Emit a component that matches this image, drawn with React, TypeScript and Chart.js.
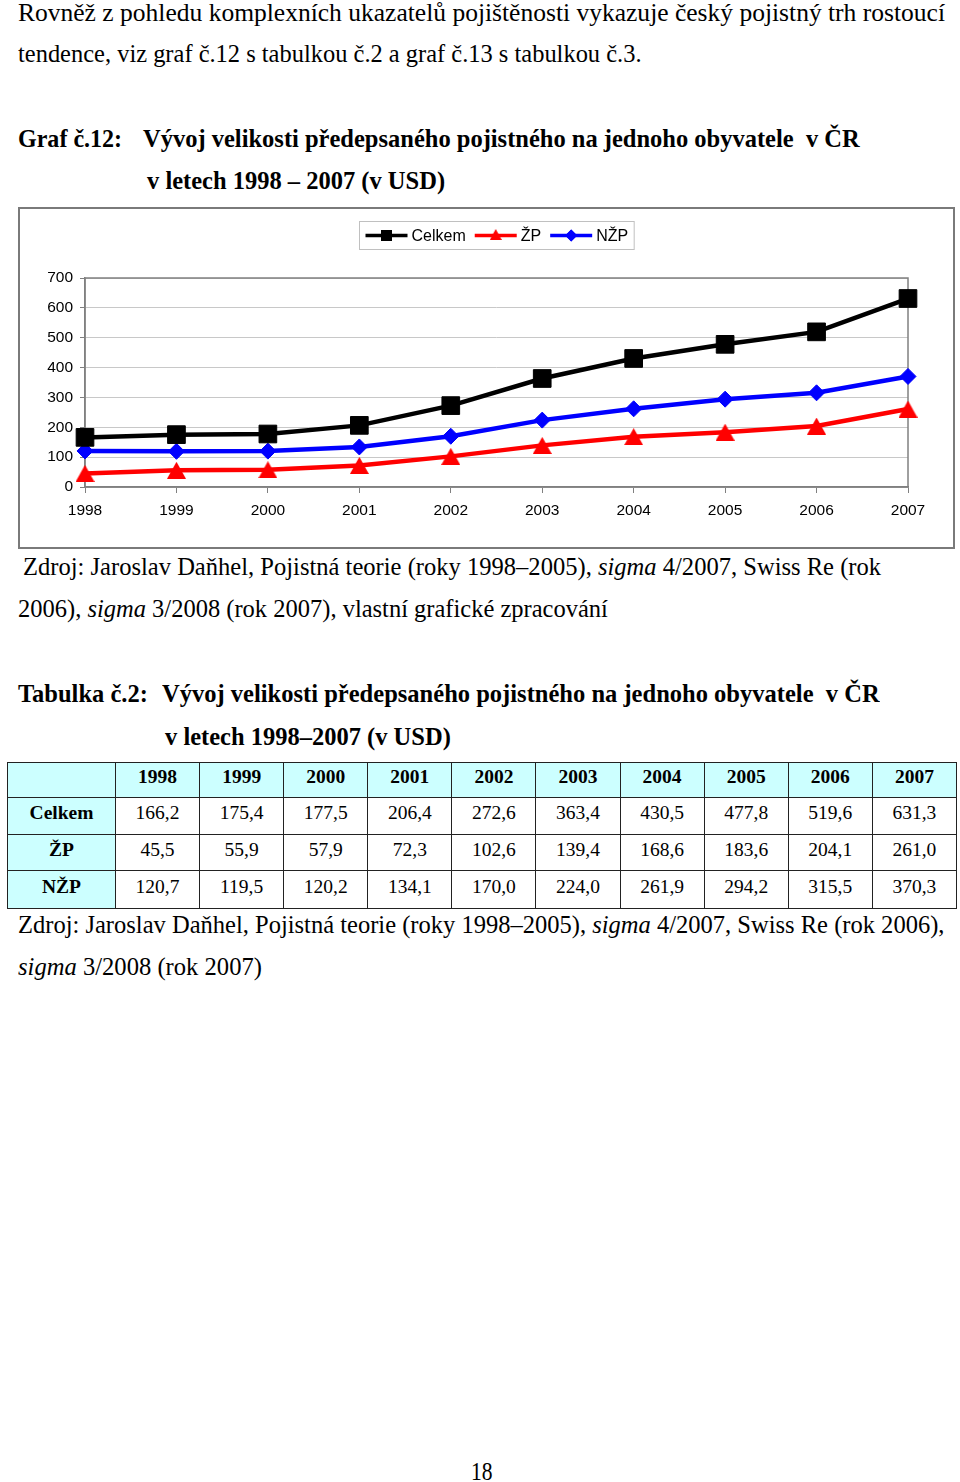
import React, { useEffect, useLayoutEffect, useRef, useState } from 'react';
import { Chart, registerables } from 'chart.js';
import { drawPoint } from 'chart.js/helpers';

Chart.register(...registerables);

// ---------- data ----------
const years = ['1998', '1999', '2000', '2001', '2002', '2003', '2004', '2005', '2006', '2007'];
const celkem = [166.2, 175.4, 177.5, 206.4, 272.6, 363.4, 430.5, 477.8, 519.6, 631.3];
const zp = [45.5, 55.9, 57.9, 72.3, 102.6, 139.4, 168.6, 183.6, 204.1, 261.0];
const nzp = [120.7, 119.5, 120.2, 134.1, 170.0, 224.0, 261.9, 294.2, 315.5, 370.3];
const seriesNames = ['Celkem', 'ŽP', 'NŽP'];
const seriesColors = ['#000000', '#ff0000', '#0000ff'];
const yMin = 0;
const yMax = 700;
const yStep = 100;

const tableRows = [
  { name: 'Celkem', values: celkem },
  { name: 'ŽP', values: zp },
  { name: 'NŽP', values: nzp },
];

const fmt = (v: number) => v.toFixed(1).replace('.', ',');

const SERIF = '"Liberation Serif", "Times New Roman", serif';
const SANS = '"Liberation Sans", Arial, sans-serif';

// ---------- text line fitted to a width ----------
function Line(props: {
  x: number;
  baseline: number;
  width?: number;
  size?: number;
  bold?: boolean;
  children: React.ReactNode;
}) {
  const { x, baseline, width, size = 24.5, bold, children } = props;
  const ref = useRef<HTMLSpanElement>(null);
  const [scale, setScale] = useState(1);
  useLayoutEffect(() => {
    const measure = () => {
      if (!ref.current || !width) return;
      const w = ref.current.offsetWidth;
      if (w > 0) setScale(width / w);
    };
    measure();
    if ((document as any).fonts && (document as any).fonts.ready) {
      (document as any).fonts.ready.then(measure);
    }
  }, [width]);
  return (
    <span
      ref={ref}
      style={{
        position: 'absolute',
        left: x,
        top: baseline - 0.8375 * size,
        display: 'inline-block',
        whiteSpace: 'pre',
        fontFamily: SERIF,
        fontSize: size,
        lineHeight: `${size}px`,
        fontWeight: bold ? 'bold' : 'normal',
        transformOrigin: '0 0',
        transform: `scaleX(${scale})`,
        color: '#000',
      }}
    >
      {children}
    </span>
  );
}

// ---------- chart ----------
function makeTriangle(color: string, w: number, h: number) {
  const c = document.createElement('canvas');
  c.width = w;
  c.height = h;
  const ctx = c.getContext('2d')!;
  ctx.fillStyle = color;
  ctx.beginPath();
  ctx.moveTo(w / 2, 0);
  ctx.lineTo(w, h);
  ctx.lineTo(0, h);
  ctx.closePath();
  ctx.fill();
  return c;
}

function LineChart() {
  const canvasRef = useRef<HTMLCanvasElement>(null);
  useEffect(() => {
    if (!canvasRef.current) return;
    const tri = makeTriangle(seriesColors[1], 19, 17);
    const triSmall = makeTriangle(seriesColors[1], 12, 11);

    const plotFrame = {
      id: 'plotFrame',
      beforeDatasetsDraw(chart: any) {
        const { ctx, chartArea } = chart;
        ctx.save();
        ctx.strokeStyle = '#808080';
        ctx.lineWidth = 1.5;
        ctx.strokeRect(chartArea.left, chartArea.top, chartArea.right - chartArea.left, chartArea.bottom - chartArea.top);
        ctx.restore();
      },
    };

    const customLegend = {
      id: 'customLegend',
      afterDraw(chart: any) {
        const { ctx, chartArea } = chart;
        ctx.save();
        ctx.font = `16px ${SANS}`;
        const lineW = 42;
        const gapText = 4;
        const gapItem = 9;
        const widths = seriesNames.map((n) => ctx.measureText(n).width);
        let total = 0;
        widths.forEach((w, i) => {
          total += lineW + gapText + w + (i < widths.length - 1 ? gapItem : 0);
        });
        const pad = 6;
        const cx = (chartArea.left + chartArea.right) / 2;
        const boxL = Math.round(cx - total / 2 - pad) + 0.5;
        const boxT = 12.5;
        const boxH = 28;
        ctx.strokeStyle = '#c0c0c0';
        ctx.lineWidth = 1;
        ctx.strokeRect(boxL, boxT, total + 2 * pad, boxH);
        const cy = boxT + boxH / 2;
        let x = boxL + pad;
        seriesNames.forEach((n, i) => {
          const col = seriesColors[i];
          ctx.strokeStyle = col;
          ctx.lineWidth = 3.5;
          ctx.beginPath();
          ctx.moveTo(x, cy);
          ctx.lineTo(x + lineW, cy);
          ctx.stroke();
          const mx = x + lineW / 2;
          ctx.fillStyle = col;
          if (i === 0) {
            ctx.fillRect(mx - 5.5, cy - 5.5, 11, 11);
          } else if (i === 1) {
            ctx.drawImage(triSmall, mx - 6, cy - 6.5);
          } else {
            drawPoint(ctx, { pointStyle: 'rectRot', radius: 6, borderWidth: 0 } as any, mx, cy);
            ctx.fill();
          }
          ctx.fillStyle = '#000';
          ctx.textBaseline = 'middle';
          ctx.textAlign = 'left';
          ctx.fillText(n, x + lineW + gapText, cy + 1);
          x += lineW + gapText + widths[i] + gapItem;
        });
        ctx.restore();
      },
    };

    const tickFont = { family: SANS, size: 15.5 };
    const chart = new Chart(canvasRef.current, {
      type: 'line',
      data: {
        labels: years,
        datasets: [
          {
            label: seriesNames[0],
            data: celkem,
            borderColor: seriesColors[0],
            backgroundColor: seriesColors[0],
            borderWidth: 4.5,
            pointStyle: 'rect',
            pointRadius: 12.5,
            pointBorderWidth: 1,
            pointBorderColor: seriesColors[0],
            pointBackgroundColor: seriesColors[0],
            clip: false as any,
            tension: 0,
          },
          {
            label: seriesNames[1],
            data: zp,
            borderColor: seriesColors[1],
            backgroundColor: seriesColors[1],
            borderWidth: 4.5,
            pointStyle: tri as any,
            pointRadius: 9,
            clip: false as any,
            tension: 0,
          },
          {
            label: seriesNames[2],
            data: nzp,
            borderColor: seriesColors[2],
            backgroundColor: seriesColors[2],
            borderWidth: 4.5,
            pointStyle: 'rectRot',
            pointRadius: 8,
            pointBorderWidth: 1,
            pointBorderColor: seriesColors[2],
            pointBackgroundColor: seriesColors[2],
            clip: false as any,
            tension: 0,
          },
        ],
      },
      options: {
        animation: false,
        responsive: false,
        devicePixelRatio: 1,
        layout: { padding: { top: 69, right: 45, left: 0, bottom: 0 } },
        plugins: {
          legend: { display: false },
          tooltip: { enabled: false },
        },
        scales: {
          x: {
            grid: { drawOnChartArea: false, color: '#808080', tickLength: 6, lineWidth: 1 },
            border: { color: '#808080', width: 1.5 },
            ticks: { font: tickFont, color: '#000', padding: 8, maxRotation: 0, autoSkip: false },
            afterFit: (s: any) => {
              s.height = 60;
            },
          },
          y: {
            min: yMin,
            max: yMax,
            ticks: { stepSize: yStep, font: tickFont, color: '#000', padding: 7 },
            grid: { color: '#c8c8c8', tickLength: 5, tickColor: '#808080', lineWidth: 1 },
            border: { color: '#808080', width: 1.5 },
            afterFit: (s: any) => {
              s.width = 65;
            },
          },
        },
      },
      plugins: [plotFrame, customLegend],
    });
    return () => chart.destroy();
  }, []);

  return (
    <div
      style={{
        position: 'absolute',
        left: 18,
        top: 207,
        width: 937,
        height: 342,
        border: '2px solid #7a7a7a',
        boxSizing: 'border-box',
        background: '#fff',
      }}
    >
      <canvas ref={canvasRef} width={933} height={338} style={{ display: 'block', width: 933, height: 338 }} />
    </div>
  );
}

// ---------- table ----------
function DataTable() {
  const cellBase: React.CSSProperties = {
    border: '1.5px solid #222',
    padding: '0 0 6px 0',
    textAlign: 'center',
    verticalAlign: 'middle',
    fontFamily: SERIF,
    fontSize: 19.5,
    lineHeight: '22px',
  };
  const cyan = '#ccffff';
  const rowH = [35, 37, 36, 38];
  return (
    <table
      style={{
        position: 'absolute',
        left: 7,
        top: 762,
        width: 950,
        borderCollapse: 'collapse',
        tableLayout: 'fixed',
      }}
    >
      <colgroup>
        <col style={{ width: 108 }} />
        {years.map((y) => (
          <col key={y} />
        ))}
      </colgroup>
      <tbody>
        <tr style={{ height: rowH[0] }}>
          <td style={{ ...cellBase, background: cyan }}></td>
          {years.map((y) => (
            <td key={y} style={{ ...cellBase, background: cyan, fontWeight: 'bold' }}>
              {y}
            </td>
          ))}
        </tr>
        {tableRows.map((r, ri) => (
          <tr key={r.name} style={{ height: rowH[ri + 1] }}>
            <td style={{ ...cellBase, background: cyan, fontWeight: 'bold' }}>{r.name}</td>
            {r.values.map((v, i) => (
              <td key={i} style={{ ...cellBase, background: '#fff' }}>
                {fmt(v)}
              </td>
            ))}
          </tr>
        ))}
      </tbody>
    </table>
  );
}

export default function App() {
  return (
    <div
      style={{
        position: 'absolute',
        left: 0,
        top: 0,
        width: 960,
        height: 1482,
        background: '#fff',
        overflow: 'hidden',
      }}
    >
      <Line x={18} baseline={21.5} width={927}>
        Rovněž z pohledu komplexních ukazatelů pojištěnosti vykazuje český pojistný trh rostoucí
      </Line>
      <Line x={18} baseline={63} width={624}>
        tendence, viz graf č.12 s tabulkou č.2 a graf č.13 s tabulkou č.3.
      </Line>

      <Line x={18} baseline={148} width={104} bold>
        Graf č.12:
      </Line>
      <Line x={143} baseline={148} width={717} bold>
        {'Vývoj velikosti předepsaného pojistného na jednoho obyvatele  v ČR'}
      </Line>
      <Line x={147} baseline={189.5} width={298} bold>
        v letech 1998 – 2007 (v USD)
      </Line>

      <LineChart />

      <Line x={23} baseline={575.5} width={858}>
        Zdroj: Jaroslav Daňhel, Pojistná teorie (roky 1998–2005), <i>sigma</i> 4/2007, Swiss Re (rok
      </Line>
      <Line x={18} baseline={617.5} width={590}>
        2006), <i>sigma</i> 3/2008 (rok 2007), vlastní grafické zpracování
      </Line>

      <Line x={18} baseline={703} width={130} bold>
        Tabulka č.2:
      </Line>
      <Line x={162} baseline={703} width={718} bold>
        {'Vývoj velikosti předepsaného pojistného na jednoho obyvatele  v ČR'}
      </Line>
      <Line x={165} baseline={746} width={286} bold>
        v letech 1998–2007 (v USD)
      </Line>

      <DataTable />

      <Line x={18} baseline={934} width={926}>
        Zdroj: Jaroslav Daňhel, Pojistná teorie (roky 1998–2005), <i>sigma</i> 4/2007, Swiss Re (rok 2006),
      </Line>
      <Line x={18} baseline={976} width={244}>
        <i>sigma</i> 3/2008 (rok 2007)
      </Line>

      <Line x={471} baseline={1481} width={22}>
        18
      </Line>
    </div>
  );
}
